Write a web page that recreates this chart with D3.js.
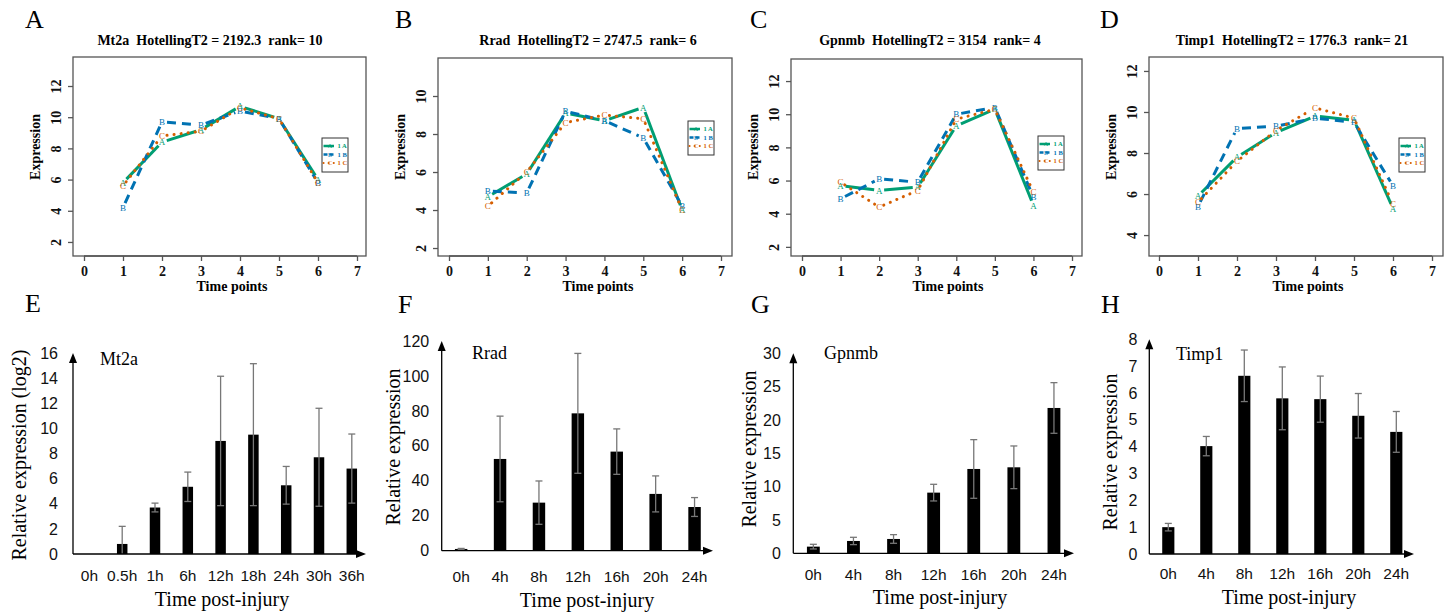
<!DOCTYPE html>
<html>
<head>
<meta charset="utf-8">
<script src="https://cdn.jsdelivr.net/npm/d3@7"></script>
<style>
  body { margin: 0; background: #fff; }
  svg { display: block; }
</style>
</head>
<body>
<div id="chart"></div>
<script>
// ---- data: time-course profiles (top row) ----
const profileTimes = [1, 2, 3, 4, 5, 6];
const profileTicksX = [0, 1, 2, 3, 4, 5, 6, 7];

const mt2aProfA = [5.8, 8.4, 9.2, 10.7, 9.9, 6.0];
const mt2aProfB = [4.2, 9.7, 9.5, 10.4, 9.9, 5.8];
const mt2aProfC = [5.6, 8.8, 9.1, 10.6, 9.9, 5.8];

const rradProfA = [4.7, 5.9, 9.1, 8.7, 9.4, 4.0];
const rradProfB = [5.0, 4.9, 9.2, 8.7, 7.8, 4.2];
const rradProfC = [4.2, 6.0, 8.6, 9.0, 8.8, 4.0];

const gpnmbProfA = [5.7, 5.4, 5.6, 9.3, 10.3, 4.5];
const gpnmbProfB = [4.9, 6.1, 5.9, 10.0, 10.4, 5.0];
const gpnmbProfC = [5.9, 4.4, 5.4, 9.7, 10.3, 5.3];

const timp1ProfA = [5.9, 7.8, 9.0, 9.8, 9.6, 5.3];
const timp1ProfB = [5.4, 9.2, 9.3, 9.7, 9.5, 6.4];
const timp1ProfC = [5.6, 7.6, 9.1, 10.2, 9.7, 5.5];

const profileTitles = [
  "Mt2a  HotellingT2 = 2192.3  rank= 10",
  "Rrad  HotellingT2 = 2747.5  rank= 6",
  "Gpnmb  HotellingT2 = 3154  rank= 4",
  "Timp1  HotellingT2 = 1776.3  rank= 21"
];
const legendLabels = ["1 A", "1 B", "1 C"];
const seriesLetters = ["A", "B", "C"];

// ---- data: qPCR bars (bottom row) ----
const mt2aHours = ["0h", "0.5h", "1h", "6h", "12h", "18h", "24h", "30h", "36h"];
const mt2aMean = [0, 0.8, 3.7, 5.35, 9.0, 9.5, 5.47, 7.7, 6.8];
const mt2aErr  = [0, 1.4, 0.35, 1.17, 5.15, 5.65, 1.5, 3.9, 2.75];
const mt2aTicks = [0, 2, 4, 6, 8, 10, 12, 14, 16];

const hours7 = ["0h", "4h", "8h", "12h", "16h", "20h", "24h"];

const rradMean = [1.0, 52.5, 27.5, 78.6, 56.7, 32.5, 25.0];
const rradErr  = [0.3, 24.5, 12.4, 34.3, 13.0, 10.3, 5.4];
const rradTicks = [0, 20, 40, 60, 80, 100, 120];

const gpnmbMean = [1.0, 1.85, 2.15, 9.1, 12.65, 12.9, 21.8];
const gpnmbErr  = [0.35, 0.55, 0.65, 1.25, 4.4, 3.2, 3.8];
const gpnmbTicks = [0, 5, 10, 15, 20, 25, 30];

const timp1Mean = [1.0, 4.02, 6.64, 5.8, 5.77, 5.15, 4.55];
const timp1Err  = [0.14, 0.36, 0.96, 1.17, 0.86, 0.83, 0.76];
const timp1Ticks = [0, 1, 2, 3, 4, 5, 6, 7, 8];

const panelLetters = ["A", "B", "C", "D", "E", "F", "G", "H"];

// ---- styling ----
const serif = "'Liberation Serif', 'Times New Roman', serif";
const sans = "'Liberation Sans', Arial, sans-serif";
const seriesColors = ["#009E73", "#0072B2", "#D55E00"];
const seriesDash = [null, "9,6", "0.1,7"];
const seriesWidth = [3, 3, 3];

const svg = d3.select("#chart").append("svg")
    .attr("width", 1455)
    .attr("height", 615);

svg.append("rect").attr("width", 1455).attr("height", 615).attr("fill", "#fff");

// panel letters
const letterPos = [[25, 28], [395, 28], [750, 28], [1100, 28], [25, 312], [398, 313], [751, 313], [1101, 313]];
svg.selectAll(".panel-letter")
    .data(panelLetters)
    .enter().append("text")
    .attr("class", "panel-letter")
    .attr("x", (d, i) => letterPos[i][0])
    .attr("y", (d, i) => letterPos[i][1])
    .style("font-family", serif)
    .style("font-size", "26px")
    .text(d => d);

// ---- top row: profile plots ----
function drawProfile(cfg) {
    const g = svg.append("g");
    const x = d3.scaleLinear().domain([0, 7]).range(cfg.xRange);
    const y = d3.scaleLinear().domain(cfg.yDomain).range([cfg.box[3], cfg.box[1]]);

    // frame
    g.append("rect")
        .attr("x", cfg.box[0]).attr("y", cfg.box[1])
        .attr("width", cfg.box[2] - cfg.box[0])
        .attr("height", cfg.box[3] - cfg.box[1])
        .attr("fill", "none")
        .attr("stroke", "#555")
        .attr("stroke-width", 1.3);

    // x axis
    const xAxis = g.append("g")
        .attr("transform", `translate(0,${cfg.box[3]})`)
        .call(d3.axisBottom(x).tickValues(profileTicksX).tickFormat(d3.format("d"))
            .tickSize(5).tickSizeOuter(0).tickPadding(2));
    xAxis.select(".domain").attr("stroke", "#555").attr("stroke-width", 1.3)
        .attr("d", `M${x(0)},0H${x(7)}`);
    xAxis.selectAll(".tick line").attr("stroke", "#555").attr("stroke-width", 1.3);
    xAxis.selectAll(".tick text")
        .attr("dy", null).attr("y", 20)
        .style("font-family", serif).style("font-weight", "bold").style("font-size", "14px")
        .attr("fill", "#111");

    // y axis (labels parallel to axis)
    const yAxis = g.append("g")
        .attr("transform", `translate(${cfg.box[0]},0)`)
        .call(d3.axisLeft(y).tickValues(cfg.yTicks).tickFormat(d3.format("d"))
            .tickSize(5).tickSizeOuter(0));
    yAxis.select(".domain").remove();
    yAxis.selectAll(".tick line").attr("stroke", "#555").attr("stroke-width", 1.3);
    yAxis.selectAll(".tick text")
        .attr("x", null).attr("dy", null)
        .attr("text-anchor", "middle")
        .attr("transform", "translate(-12,0) rotate(-90)")
        .style("font-family", serif).style("font-weight", "bold").style("font-size", "14px")
        .attr("fill", "#111");

    // title and axis titles
    g.append("text")
        .attr("x", cfg.titleX).attr("y", 45)
        .attr("text-anchor", "middle")
        .style("white-space", "pre")
        .style("font-family", serif).style("font-weight", "bold").style("font-size", "14px")
        .text(cfg.title);
    g.append("text")
        .attr("x", cfg.xlabX).attr("y", 291)
        .attr("text-anchor", "middle")
        .style("font-family", serif).style("font-weight", "bold").style("font-size", "14px")
        .text("Time points");
    g.append("text")
        .attr("transform", `translate(${cfg.box[0] - 33},147) rotate(-90)`)
        .attr("text-anchor", "middle")
        .style("font-family", serif).style("font-weight", "bold").style("font-size", "14px")
        .text("Expression");

    // series: segments with gaps around letters (type = "b")
    const gap = 5;
    cfg.series.forEach((vals, si) => {
        const pts = vals.map((v, i) => [x(profileTimes[i]), y(v)]);
        const segs = d3.pairs(pts).map(([p, q]) => {
            const dx = q[0] - p[0], dy = q[1] - p[1];
            const len = Math.hypot(dx, dy);
            const ux = dx / len, uy = dy / len;
            return [[p[0] + ux * gap, p[1] + uy * gap], [q[0] - ux * gap, q[1] - uy * gap]];
        });
        g.selectAll(null)
            .data(segs)
            .enter().append("line")
            .attr("x1", d => d[0][0]).attr("y1", d => d[0][1])
            .attr("x2", d => d[1][0]).attr("y2", d => d[1][1])
            .attr("stroke", seriesColors[si])
            .attr("stroke-width", seriesWidth[si])
            .attr("stroke-dasharray", seriesDash[si])
            .attr("stroke-linecap", si === 2 ? "round" : "butt");
        g.selectAll(null)
            .data(vals)
            .enter().append("text")
            .attr("x", (d, i) => x(profileTimes[i]))
            .attr("y", d => y(d))
            .attr("dy", "0.35em")
            .attr("text-anchor", "middle")
            .attr("fill", seriesColors[si])
            .style("font-family", serif).style("font-size", "9px")
            .text(seriesLetters[si]);
    });

    // legend
    const lg = g.append("g").attr("transform", `translate(${cfg.legend[0]},${cfg.legend[1]})`);
    lg.append("rect").attr("width", 26).attr("height", 34)
        .attr("fill", "#fff").attr("stroke", "#333").attr("stroke-width", 1);
    legendLabels.forEach((lab, i) => {
        const ry = 8 + i * 8.5;
        lg.append("line")
            .attr("x1", 1.5).attr("x2", 12).attr("y1", ry).attr("y2", ry)
            .attr("stroke", seriesColors[i])
            .attr("stroke-width", i === 2 ? 2 : 2.5)
            .attr("stroke-dasharray", i === 1 ? "4,2" : (i === 2 ? "0.1,5" : null))
            .attr("stroke-linecap", i === 2 ? "round" : "butt");
        lg.append("text")
            .attr("x", 8).attr("y", ry).attr("dy", "0.35em")
            .attr("text-anchor", "middle")
            .attr("fill", seriesColors[i])
            .style("font-family", serif).style("font-size", "6px")
            .text(seriesLetters[i]);
        lg.append("text")
            .attr("x", 15.5).attr("y", ry).attr("dy", "0.35em")
            .attr("fill", seriesColors[i])
            .style("font-family", serif).style("font-weight", "bold").style("font-size", "6.5px")
            .text(lab);
    });
}

drawProfile({
    title: profileTitles[0], titleX: 210, xlabX: 232,
    box: [73, 57, 366, 256], xRange: [84, 357], yDomain: [1.1, 13.86],
    yTicks: [2, 4, 6, 8, 10, 12], legend: [322, 138],
    series: [mt2aProfA, mt2aProfB, mt2aProfC]
});
drawProfile({
    title: profileTitles[1], titleX: 588, xlabX: 598,
    box: [438, 58, 732, 256], xRange: [449, 721], yDomain: [1.58, 12.0],
    yTicks: [2, 4, 6, 8, 10], legend: [688, 121],
    series: [rradProfA, rradProfB, rradProfC]
});
drawProfile({
    title: profileTitles[2], titleX: 930, xlabX: 948,
    box: [791, 59, 1082, 256], xRange: [802, 1072], yDomain: [1.45, 13.33],
    yTicks: [2, 4, 6, 8, 10, 12], legend: [1038, 136],
    series: [gpnmbProfA, gpnmbProfB, gpnmbProfC]
});
drawProfile({
    title: profileTitles[3], titleX: 1292, xlabX: 1308,
    box: [1149, 57, 1443, 256], xRange: [1159, 1432], yDomain: [2.98, 12.68],
    yTicks: [4, 6, 8, 10, 12], legend: [1399, 138],
    series: [timp1ProfA, timp1ProfB, timp1ProfC]
});

// ---- bottom row: bar charts with error bars ----
function drawBars(cfg) {
    const g = svg.append("g");
    const n = cfg.cats.length;
    const x = d3.scaleBand().domain(cfg.cats)
        .range([cfg.x0, cfg.x0 + n * cfg.step])
        .paddingInner(0.68).paddingOuter(0.34);
    const y = d3.scaleLinear().domain([0, d3.max(cfg.ticks)]).range([cfg.y0, cfg.yTop]);

    // bars
    g.selectAll(".bar")
        .data(cfg.mean)
        .enter().append("rect")
        .attr("class", "bar")
        .attr("x", (d, i) => x(cfg.cats[i]))
        .attr("y", d => y(d))
        .attr("width", x.bandwidth())
        .attr("height", d => cfg.y0 - y(d))
        .attr("fill", "#000");

    // error bars
    const eb = cfg.mean.map((m, i) => ({ m, e: cfg.err[i], c: cfg.cats[i] })).filter(d => d.e > 0);
    const cx = d => x(d.c) + x.bandwidth() / 2;
    g.selectAll(".eb")
        .data(eb)
        .enter().append("line")
        .attr("x1", cx).attr("x2", cx)
        .attr("y1", d => y(Math.max(0, d.m - d.e)))
        .attr("y2", d => y(d.m + d.e))
        .attr("stroke", "#777").attr("stroke-width", 1.3);
    g.selectAll(".cap-top")
        .data(eb)
        .enter().append("line")
        .attr("x1", d => cx(d) - 3.5).attr("x2", d => cx(d) + 3.5)
        .attr("y1", d => y(d.m + d.e)).attr("y2", d => y(d.m + d.e))
        .attr("stroke", "#777").attr("stroke-width", 1.3);
    g.selectAll(".cap-bot")
        .data(eb.filter(d => d.m - d.e > 0))
        .enter().append("line")
        .attr("x1", d => cx(d) - 3.5).attr("x2", d => cx(d) + 3.5)
        .attr("y1", d => y(d.m - d.e)).attr("y2", d => y(d.m - d.e))
        .attr("stroke", "#777").attr("stroke-width", 1.3);

    // axes lines with arrowheads
    g.append("line")
        .attr("x1", cfg.x0).attr("x2", cfg.x0)
        .attr("y1", cfg.y0).attr("y2", cfg.yTop + 6)
        .attr("stroke", "#000").attr("stroke-width", 1.3);
    g.append("path")
        .attr("d", `M${cfg.x0},${cfg.yTop}L${cfg.x0 - 4},${cfg.yTop + 10}L${cfg.x0 + 4},${cfg.yTop + 10}Z`)
        .attr("fill", "#000");
    g.append("line")
        .attr("x1", cfg.x0).attr("x2", cfg.xEnd - 6)
        .attr("y1", cfg.y0).attr("y2", cfg.y0)
        .attr("stroke", "#000").attr("stroke-width", 1.3);
    g.append("path")
        .attr("d", `M${cfg.xEnd},${cfg.y0}L${cfg.xEnd - 10},${cfg.y0 - 4}L${cfg.xEnd - 10},${cfg.y0 + 4}Z`)
        .attr("fill", "#000");

    // tick labels
    const yAxis = g.append("g")
        .attr("transform", `translate(${cfg.x0},0)`)
        .call(d3.axisLeft(y).tickValues(cfg.ticks).tickSize(0).tickPadding(cfg.yPad));
    yAxis.select(".domain").remove();
    yAxis.selectAll(".tick text")
        .style("font-family", sans).style("font-size", "16px").attr("fill", "#111");

    const xAxis = g.append("g")
        .attr("transform", `translate(0,${cfg.y0})`)
        .call(d3.axisBottom(x).tickSize(0));
    xAxis.select(".domain").remove();
    xAxis.selectAll(".tick text")
        .attr("dy", null).attr("y", cfg.xLabY - cfg.y0)
        .style("font-family", sans).style("font-size", "15.5px").attr("fill", "#111");

    // gene name, axis titles
    g.append("text")
        .attr("x", cfg.gene[0]).attr("y", cfg.gene[1])
        .style("font-family", serif).style("font-size", "18px")
        .text(cfg.geneName);
    g.append("text")
        .attr("x", cfg.xTitleX).attr("y", cfg.xTitleY)
        .attr("text-anchor", "middle")
        .style("font-family", serif).style("font-size", "20px")
        .text("Time post-injury");
    g.append("text")
        .attr("transform", `translate(${cfg.yTitle[0]},${cfg.yTitle[1]}) rotate(-90)`)
        .attr("text-anchor", "middle")
        .style("font-family", serif).style("font-size", "20px")
        .text(cfg.yTitleText);
}

drawBars({
    cats: mt2aHours, mean: mt2aMean, err: mt2aErr, ticks: mt2aTicks,
    x0: 73, step: 32.8, xEnd: 366, y0: 554, yTop: 353, yPad: 15,
    xLabY: 581, geneName: "Mt2a", gene: [100, 365],
    xTitleX: 222, xTitleY: 606, yTitle: [26, 455], yTitleText: "Relative expression (log2)"
});
drawBars({
    cats: hours7, mean: rradMean, err: rradErr, ticks: rradTicks,
    x0: 441.7, step: 38.9, xEnd: 713, y0: 550.7, yTop: 341, yPad: 12.5,
    xLabY: 582, geneName: "Rrad", gene: [472, 359],
    xTitleX: 587, xTitleY: 607, yTitle: [400, 447], yTitleText: "Relative expression"
});
drawBars({
    cats: hours7, mean: gpnmbMean, err: gpnmbErr, ticks: gpnmbTicks,
    x0: 793.3, step: 40.1, xEnd: 1074, y0: 553.3, yTop: 353.3, yPad: 12.5,
    xLabY: 580, geneName: "Gpnmb", gene: [824, 359],
    xTitleX: 940, xTitleY: 604, yTitle: [756, 449], yTitleText: "Relative expression"
});
drawBars({
    cats: hours7, mean: timp1Mean, err: timp1Err, ticks: timp1Ticks,
    x0: 1149.3, step: 38, xEnd: 1414, y0: 554, yTop: 339.3, yPad: 12,
    xLabY: 579, geneName: "Timp1", gene: [1176, 360],
    xTitleX: 1289, xTitleY: 604, yTitle: [1117, 452], yTitleText: "Relative expression"
});
</script>
</body>
</html>
